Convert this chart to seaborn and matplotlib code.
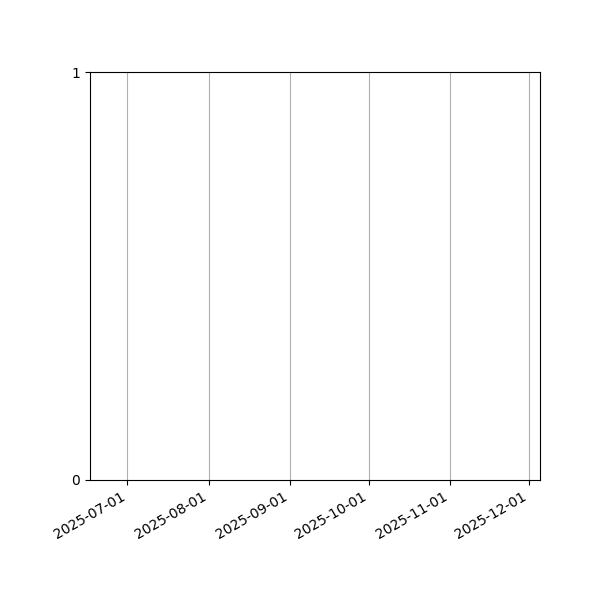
import matplotlib
matplotlib.use("Agg")
import matplotlib.pyplot as plt
import matplotlib.dates as mdates
import seaborn as sns
import pandas as pd

# Data: the chart shows an empty series over this date window
x_range = ["2025-06-16 20:00", "2025-12-05 05:00"]
dates = []
values = []
y_ticks = [0, 1]

sns.set_style("white")
plt.rcParams["text.color"] = "black"
plt.rcParams["xtick.color"] = "black"
plt.rcParams["ytick.color"] = "black"
plt.rcParams["axes.labelcolor"] = "black"

fig, ax = plt.subplots(figsize=(6, 6), dpi=100)
fig.subplots_adjust(left=0.15, right=0.9, top=0.88, bottom=0.2)

df = pd.DataFrame({"date": pd.to_datetime(dates), "value": pd.Series(values, dtype=float)})
if len(df):
    sns.lineplot(data=df, x="date", y="value", ax=ax)

ax.set_xlim(pd.to_datetime(x_range[0]), pd.to_datetime(x_range[1]))
ax.set_ylim(y_ticks[0], y_ticks[-1])
ax.set_yticks(y_ticks)
ax.xaxis.set_major_locator(mdates.MonthLocator())
ax.xaxis.set_major_formatter(mdates.DateFormatter("%Y-%m-%d"))
ax.grid(True, axis="x", color="#b0b0b0", linewidth=0.8)
ax.grid(False, axis="y")
ax.set_xlabel("")
ax.set_ylabel("")
ax.tick_params(axis="both", which="major", length=3.5, width=0.8, color="black",
               labelcolor="black", labelsize=10, bottom=True, left=True)
for s in ax.spines.values():
    s.set_visible(True)
    s.set_color("black")
    s.set_linewidth(0.8)
for lbl in ax.get_xticklabels():
    lbl.set_rotation(30)
    lbl.set_ha("right")

fig.savefig("out.png", dpi=100)
